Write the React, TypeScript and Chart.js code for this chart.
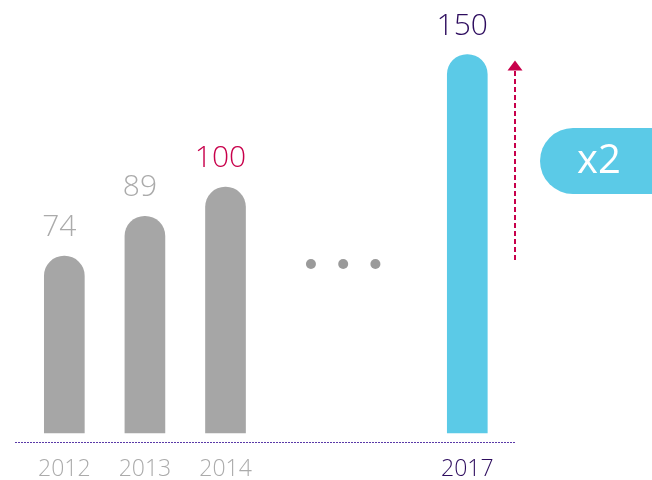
import React, { useEffect, useRef } from "react";
import { Chart, registerables } from "chart.js";

Chart.register(...registerables);

// ---- data ----
const years = [2012, 2013, 2014, 2017];
const values = [74, 89, 100, 150];
const barColors = ["#a6a6a6", "#a6a6a6", "#a6a6a6", "#5bcae7"];
const labelColors = ["#ababab", "#ababab", "#c8004b", "#2d0c5e"];
const tickColors = ["#ababab", "#ababab", "#ababab", "#2d0c5e"];
const ellipsisX = [2015.06, 2015.46, 2015.86];
const ellipsisY = [71, 71, 71];
const arrowFrom = 74;
const arrowTo = 150;
const badgeText = "x2";

const FONT = '"Open Sans", "Noto Sans", sans-serif';
const CRIMSON = "#c8004b";
const CYAN = "#5bcae7";
const PURPLE = "#5a3aa8";

const decorPlugin = {
  id: "decor",
  beforeDatasetsDraw(chart: any) {
    const ctx = chart.ctx as CanvasRenderingContext2D;
    const area = chart.chartArea;
    ctx.save();
    ctx.fillStyle = PURPLE;
    const y = Math.round(area.bottom);
    for (let x = Math.round(area.left); x < area.right; x += 3) {
      ctx.fillRect(x, y, 2, 1);
    }
    ctx.restore();
  },
  afterDatasetsDraw(chart: any) {
    const ctx = chart.ctx as CanvasRenderingContext2D;
    const meta = chart.getDatasetMeta(0);
    const ys = chart.scales.y;
    const area = chart.chartArea;
    ctx.save();
    // value labels
    ctx.font = `300 30px ${FONT}`;
    ctx.textAlign = "center";
    ctx.textBaseline = "alphabetic";
    meta.data.forEach((bar: any, i: number) => {
      ctx.fillStyle = labelColors[i];
      ctx.fillText(String(values[i]), bar.x - 5, bar.y - 20);
    });
    // arrow
    const ax = area.right;
    const yb = ys.getPixelForValue(arrowFrom) + 4;
    const yt = ys.getPixelForValue(arrowTo) + 6;
    ctx.strokeStyle = CRIMSON;
    ctx.lineWidth = 2;
    ctx.setLineDash([5, 3]);
    ctx.beginPath();
    ctx.moveTo(ax, yb);
    ctx.lineTo(ax, yt + 9);
    ctx.stroke();
    ctx.setLineDash([]);
    ctx.fillStyle = CRIMSON;
    ctx.beginPath();
    ctx.moveTo(ax, yt);
    ctx.lineTo(ax - 7.5, yt + 10);
    ctx.lineTo(ax + 7.5, yt + 10);
    ctx.closePath();
    ctx.fill();
    // badge pill
    const px = area.right + 25;
    const pcy = 161;
    const ph = 66;
    const r = ph / 2;
    ctx.fillStyle = CYAN;
    ctx.beginPath();
    ctx.moveTo(px + r, pcy - r);
    ctx.lineTo(px + 200, pcy - r);
    ctx.lineTo(px + 200, pcy + r);
    ctx.lineTo(px + r, pcy + r);
    ctx.arc(px + r, pcy, r, Math.PI / 2, (Math.PI * 3) / 2);
    ctx.closePath();
    ctx.fill();
    ctx.fillStyle = "#ffffff";
    ctx.font = `400 40px ${FONT}`;
    ctx.textAlign = "center";
    ctx.textBaseline = "middle";
    ctx.fillText(badgeText, px + 59, pcy + 1);
    ctx.restore();
  },
};

export default function App() {
  const ref = useRef<HTMLCanvasElement | null>(null);
  useEffect(() => {
    if (!ref.current) return;
    const chart = new Chart(ref.current, {
      type: "bar",
      data: {
        datasets: [
          {
            type: "bar",
            data: years.map((x, i) => ({ x, y: values[i] })),
            backgroundColor: barColors,
            barThickness: 40,
            base: 7.3,
            borderRadius: { topLeft: 20, topRight: 20, bottomLeft: 0, bottomRight: 0 },
            borderSkipped: "bottom",
          } as any,
          {
            type: "scatter",
            data: ellipsisX.map((x, i) => ({ x, y: ellipsisY[i] })),
            pointRadius: 5,
            pointBorderWidth: 0,
            pointBackgroundColor: "#9a9a9a",
            showLine: false,
          } as any,
        ],
      },
      options: {
        animation: false,
        responsive: true,
        maintainAspectRatio: false,
        layout: { padding: { left: 15, right: 137, top: 10, bottom: 0 } },
        plugins: { legend: { display: false }, tooltip: { enabled: false } },
        scales: {
          x: {
            type: "linear",
            min: 2011.388,
            max: 2017.592,
            offset: false,
            grid: { display: false, drawTicks: false },
            border: { display: false },
            afterBuildTicks: (axis: any) => {
              axis.ticks = years.map((v) => ({ value: v }));
            },
            afterFit: (axis: any) => {
              axis.height = 38;
            },
            ticks: {
              autoSkip: false,
              maxRotation: 0,
              padding: 14,
              font: { family: FONT, size: 23, weight: "300" as any },
              color: (c: any) => {
                const idx = years.indexOf(c.tick ? c.tick.value : -1);
                return idx >= 0 ? tickColors[idx] : "#ababab";
              },
              callback: (v: any) => String(v),
            },
          },
          y: {
            display: false,
            min: 3.9,
            max: 166.8,
          },
        },
      } as any,
      plugins: [decorPlugin],
    });
    return () => chart.destroy();
  }, []);
  return (
    <div style={{ position: "fixed", left: 0, top: 0, width: 652, height: 480, background: "#fff" }}>
      <canvas ref={ref} />
    </div>
  );
}
